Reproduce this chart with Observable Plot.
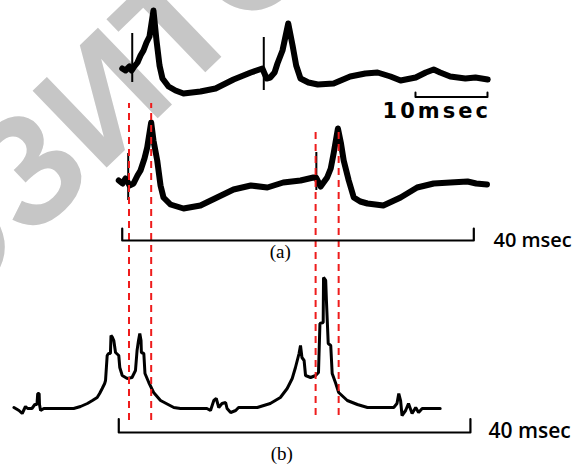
<!DOCTYPE html>
<html>
<head>
<meta charset="utf-8">
<script src="https://cdn.jsdelivr.net/npm/d3@7"></script>
<script src="https://cdn.jsdelivr.net/npm/@observablehq/plot@0.6"></script>
<style>
  html, body { margin: 0; padding: 0; background: #fff; }
  #chart { width: 576px; height: 466px; overflow: hidden; }
</style>
</head>
<body>
<div id="chart"></div>
<script>
// ---- data (time in msec, amplitude in arbitrary units relative to each trace's baseline) ----
const traceTop = [
  [0.24,12],[0.69,10],[1.25,14],[1.53,10],[1.81,13],[2.36,18],[2.78,25],
  [3.19,30],[3.61,38],[4.03,44],[4.58,70],[5.0,40],[5.42,15],[5.83,2],[6.67,-6],[7.64,-10],
  [8.75,-13],[11.1,-11],[13.2,-8],[15.7,1],[18.1,8],[19.7,12],[20.3,2],
  [20.8,3],[21.4,8],[21.8,17],[22.5,30],[23.3,57],[23.9,35],[24.4,15],[25.0,2],[26.1,-2],
  [27.4,-4],[29.6,-3],[31.9,4],[34.0,7],[35.7,8],[37.5,4],[38.9,0],[41.0,3],[42.4,8],[43.5,11],
  [44.4,8],[45.8,4],[47.9,2],[49.3,3],[51.0,1]
];
const spikesTop = [[1.63, 47, -2], [19.9, 43, -10]];   // [time, high, low]
const traceMid = [
  [-0.24,5],[0.28,2],[0.69,7],[1.04,3],[1.25,0],[1.81,2],[2.36,10],[2.78,15],
  [3.33,27],[3.71,38],[4.26,63],[4.58,45],[5.1,25],[5.56,0],[5.97,-12],[6.94,-19],[8.75,-23],
  [11.1,-20],[13.4,-12],[15.7,-4],[18.1,0],[20.4,-2],[22.6,3],[25.0,5],[26.8,8],[27.15,8],
  [27.8,-1],[28.7,8],[29.2,17],[29.6,32],[30.2,57],[30.6,43],[31.0,25],
  [31.7,5],[32.4,-12],[33.3,-16],[34.3,-18],[36.5,-20],[38.9,-12],[41.2,-2],[43.5,2],[45.8,3],
  [48.2,4],[49.4,2],[50.9,1]
];
const spikesMid = [[1.07, 32, -15], [27.2, 33, -5]];
const traceModel = [
  [-14.8,1],[-14.1,-2],[-13.65,-5],[-13.2,2],[-12.9,0],[-12.3,0],[-11.9,4],[-11.6,4],[-11.5,15],
  [-11.3,15],[-11.25,4],[-11.1,-2],[-10.65,0],[-6.5,0],[-5.55,2],[-4.6,5],[-3.9,8],[-3.24,11],
  [-2.9,15],[-2.54,20],[-2.2,25],[-2.08,28],[-1.85,53],[-1.67,55],[-1.4,55],[-1.32,73],[-1.11,71],
  [-0.93,68],[-0.69,56],[-0.24,53],[-0.1,41],[0.24,33],[0.93,30],[1.6,31],[2.08,38],[2.3,58],
  [2.5,68],[2.68,75],[2.85,68],[2.9,56],[3.24,55],[3.4,35],[3.93,26],[4.6,16],[5.56,8],[7.4,1],
  [8.33,0],[12.0,0],[12.5,-2],[12.96,8],[13.3,10],[13.65,1],[14.1,5],[14.6,6],[14.8,0],[15.3,-4],
  [16.0,-2],[16.4,1],[19.0,1],[20.8,5],[22.2,11],[23.15,20],[23.85,30],[24.3,41],[24.8,55],
  [25.0,63],[25.2,51],[25.5,48],[25.7,33],[26.4,31],[27.1,33],[27.5,36],[27.7,85],[28.15,86],
  [28.2,131],[28.5,128],[28.6,108],[28.85,65],[29.2,63],[29.4,35],[29.9,25],[30.3,16],[31.5,8],
  [32.9,4],[34.3,1],[37.5,1],[37.95,1],[38.4,5],[38.65,15],[38.9,8],[39.1,-7],[39.6,-2],[40.0,5],
  [40.5,-5],[41.0,1],[41.4,-4],[41.9,0],[44.4,0]
];
const markerTimes = [1.18, 4.26, 27.1, 30.3];      // red dashed alignment lines (msec)
const bracketA = [0.24, 49.07];                     // 40 msec bracket, panel (a)
const bracketB = [-0.24, 48.6];                     // 40 msec bracket, panel (b)
const scaleBar = [40.97, 50.97];                    // 10 msec scale bar
const labels = ["10msec", "40 msec", "40 msec", "(a)", "(b)"];
const watermark = "ОЗИТО";

// ---- layout (vertical baselines in the shared y scale) ----
const base = {top: 386, mid: 281, model: 58};
const shift = (arr, b) => arr.map(([t, v]) => ({t, v: v + b}));
const spikes = (arr, b) => arr.map(([t, hi, lo]) => ({t, hi: hi + b, lo: lo + b}));
const bracket = ([a, b], yTop, yBot) => [
  {t: a, v: yTop}, {t: a, v: yBot}, {t: b, v: yBot}, {t: b, v: yTop}
];
const thick = {x: "t", y: "v", stroke: "black", strokeWidth: 6, strokeLinejoin: "round", strokeLinecap: "round"};

const chart = Plot.plot({
  width: 576, height: 466,
  margin: 0,
  x: {domain: [-120 / 7.2, 456 / 7.2], axis: null},
  y: {domain: [0, 466], axis: null},
  style: {background: "white"},
  marks: [
    Plot.text([watermark], {x: -2.5, y: 364, text: d => d, rotate: -44, fontSize: 155,
      fontFamily: "Liberation Sans", fontWeight: "bold", fill: "#c6c6c6", textAnchor: "middle", lineAnchor: "middle"}),
    Plot.line(shift(traceTop, base.top), thick),
    Plot.ruleX(spikes(spikesTop, base.top), {x: "t", y1: "lo", y2: "hi", stroke: "black", strokeWidth: 2}),
    Plot.line(shift(traceMid, base.mid), thick),
    Plot.ruleX(spikes(spikesMid, base.mid), {x: "t", y1: "lo", y2: "hi", stroke: "black", strokeWidth: 2}),
    Plot.line(shift(traceModel, base.model), {x: "t", y: "v", stroke: "black", strokeWidth: 3,
      strokeLinejoin: "miter"}),
    Plot.ruleX(markerTimes, {x: d => d, y1: (d, i) => i < 2 ? 46 : 51, y2: (d, i) => i < 2 ? 363 : 337,
      stroke: "#ee1c1c", strokeWidth: 2, strokeDasharray: "7,5"}),
    Plot.line(bracket(bracketA, 238, 226), {x: "t", y: "v", stroke: "black", strokeWidth: 2.2}),
    Plot.line(bracket(bracketB, 47.5, 34), {x: "t", y: "v", stroke: "black", strokeWidth: 2.2}),
    Plot.line(bracket(scaleBar, 374, 369.5), {x: "t", y: "v", stroke: "black", strokeWidth: 2}),
    Plot.text([labels[0]], {x: 36.4, y: 349, text: d => d, textAnchor: "start", lineAnchor: "bottom",
      fontSize: 21, fontFamily: "DejaVu Sans", fontWeight: "bold", fill: "black"}),
    Plot.text([labels[1]], {x: 51.8, y: 220, text: d => d, textAnchor: "start", lineAnchor: "bottom",
      fontSize: 20, fontFamily: "Open Sans", fontWeight: 600, fill: "black"}),
    Plot.text([labels[2]], {x: 51.1, y: 29, text: d => d, textAnchor: "start", lineAnchor: "bottom",
      fontSize: 21, fontFamily: "Open Sans", fontWeight: 600, fill: "black"}),
    Plot.text([labels[3]], {x: 22.2, y: 209, text: d => d, textAnchor: "middle", lineAnchor: "bottom",
      fontSize: 19, fontFamily: "Liberation Serif", fill: "black"}),
    Plot.text([labels[4]], {x: 22.4, y: 7, text: d => d, textAnchor: "middle", lineAnchor: "bottom",
      fontSize: 19, fontFamily: "Liberation Serif", fill: "black"})
  ]
});
d3.select(chart).selectAll("text").filter(function () { return this.textContent === labels[0]; })
  .attr("letter-spacing", "3px");
document.getElementById("chart").appendChild(chart);
</script>
</body>
</html>
